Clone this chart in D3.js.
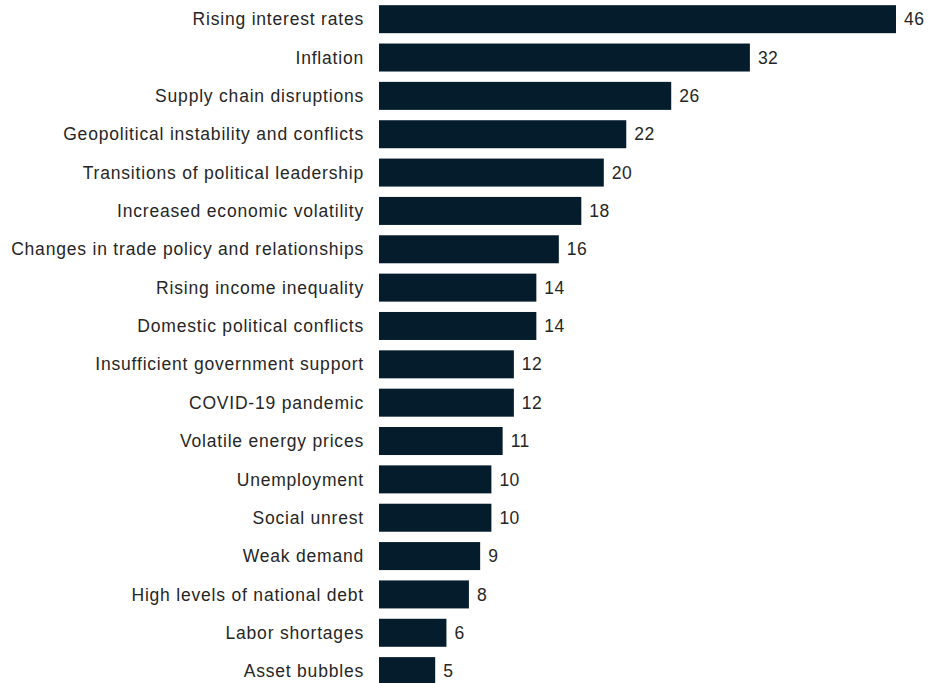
<!DOCTYPE html>
<html>
<head>
<meta charset="utf-8">
<script src="https://cdn.jsdelivr.net/npm/d3@7"></script>
<style>
  body { margin: 0; background: #fff; }
  .cat-label, .val-label { font-family: "Liberation Sans", Arial, sans-serif; font-size: 17.5px; fill: #262626; }
  .cat-label { letter-spacing: 0.8px; }
  .val-label { letter-spacing: 0.5px; }
</style>
</head>
<body>
<div id="chart"></div>
<script>
// categories, top to bottom
const categories = [
  "Rising interest rates",
  "Inflation",
  "Supply chain disruptions",
  "Geopolitical instability and conflicts",
  "Transitions of political leadership",
  "Increased economic volatility",
  "Changes in trade policy and relationships",
  "Rising income inequality",
  "Domestic political conflicts",
  "Insufficient government support",
  "COVID-19 pandemic",
  "Volatile energy prices",
  "Unemployment",
  "Social unrest",
  "Weak demand",
  "High levels of national debt",
  "Labor shortages",
  "Asset bubbles"
];

// bar lengths
const values = [46, 33, 26, 22, 20, 18, 16, 14, 14, 12, 12, 11, 10, 10, 9, 8, 6, 5];

// numbers printed next to the bars
const valueLabels = ["46", "32", "26", "22", "20", "18", "16", "14", "14", "12", "12", "11", "10", "10", "9", "8", "6", "5"];

const width = 932, height = 683;
const barColor = "#051c2c";

const svg = d3.select("#chart").append("svg")
  .attr("width", width)
  .attr("height", height);

// scales
const x = d3.scaleLinear().domain([0, 46]).range([379, 896]);
const y = d3.scaleBand()
  .domain(categories)
  .range([0, 690.3])
  .paddingInner(0.27)
  .paddingOuter(0.135);

const rows = categories.map((c, i) => ({cat: c, value: values[i], label: valueLabels[i]}));

// bars
svg.selectAll("rect.bar")
  .data(rows)
  .enter()
  .append("rect")
  .attr("class", "bar")
  .attr("x", x(0))
  .attr("y", d => y(d.cat))
  .attr("width", d => x(d.value) - x(0))
  .attr("height", y.bandwidth())
  .attr("fill", barColor);

// category labels
svg.selectAll("text.cat-label")
  .data(rows)
  .enter()
  .append("text")
  .attr("class", "cat-label")
  .attr("x", x(0) - 15)
  .attr("y", d => y(d.cat) + y.bandwidth() / 2)
  .attr("dy", "0.35em")
  .attr("text-anchor", "end")
  .text(d => d.cat);

// value labels
svg.selectAll("text.val-label")
  .data(rows)
  .enter()
  .append("text")
  .attr("class", "val-label")
  .attr("x", d => x(d.value) + 8)
  .attr("y", d => y(d.cat) + y.bandwidth() / 2)
  .attr("dy", "0.35em")
  .text(d => d.label);
</script>
</body>
</html>
